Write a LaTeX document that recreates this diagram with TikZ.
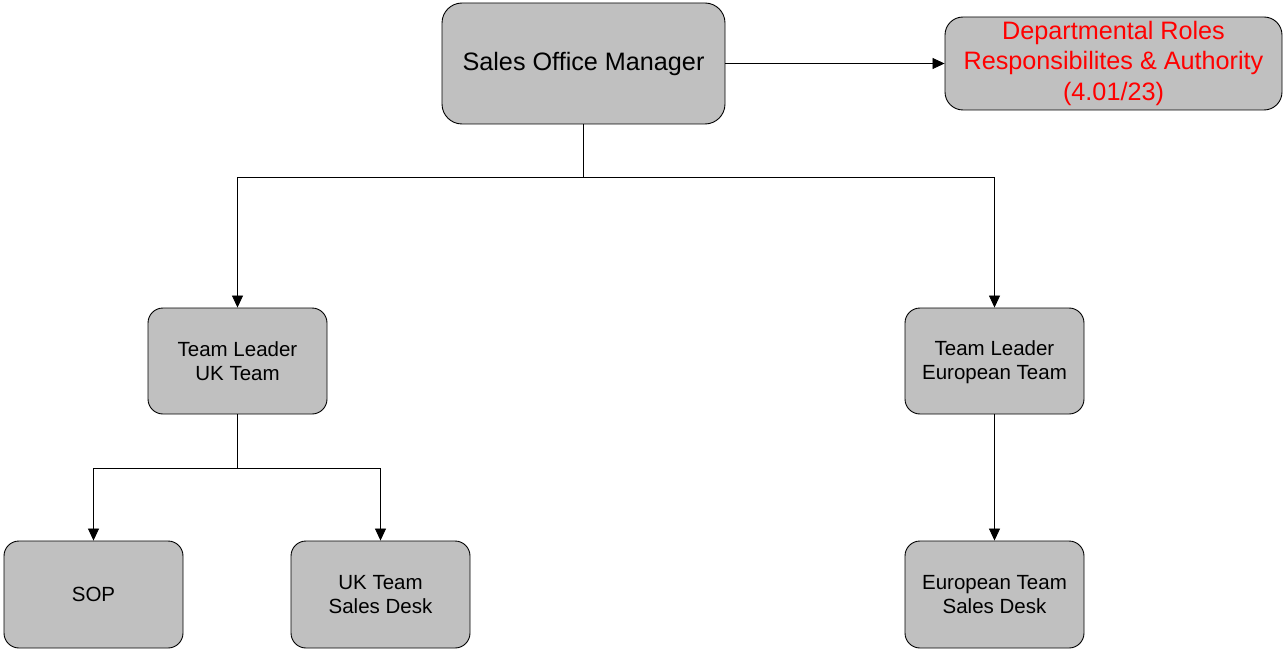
\documentclass[tikz,border=0pt]{standalone}
\usepackage{fontspec}
\setmainfont{Liberation Sans}
\usetikzlibrary{arrows.meta}
\definecolor{boxgray}{HTML}{C0C0C0}
\definecolor{redtext}{HTML}{FF0000}
\tikzset{
  box/.style={draw=black, line width=0.9pt, fill=boxgray, rounded corners=15pt, inner sep=0pt, align=center, font=\fontsize{20.5}{24}\selectfont},
  conn/.style={draw=black, line width=0.8pt},
  arr/.style={conn, -{Triangle[length=12pt,width=11pt]}}
}
\begin{document}
\begin{tikzpicture}[x=1pt,y=-1pt]
\useasboundingbox (0,0) rectangle (1285,650);
\node[box, rounded corners=20pt, minimum width=283pt, minimum height=121pt, font=\fontsize{25.2}{30}\selectfont] (som) at (583.5,63.5) {\raisebox{-2pt}{Sales Office Manager}};
\node[box, rounded corners=18pt, minimum width=337pt, minimum height=93pt, text=redtext, font=\fontsize{25.2}{30.5}\selectfont] (dra) at (1113.5,63.5) {\raisebox{-2pt}{\begin{tabular}{@{}c@{}}Departmental Roles\\Responsibilites \& Authority\\(4.01/23)\end{tabular}}};
\node[box, minimum width=179pt, minimum height=106pt] (tluk) at (237.5,361) {Team Leader\\UK Team};
\node[box, minimum width=179pt, minimum height=106pt] (tleu) at (994.5,361) {Team Leader\strut\\European Team};
\node[box, minimum width=179pt, minimum height=107pt] (sop) at (93.5,594.5) {SOP};
\node[box, minimum width=179pt, minimum height=107pt] (uksd) at (380.5,594.5) {UK Team\\Sales Desk};
\node[box, minimum width=179pt, minimum height=107pt] (eusd) at (994.5,594.5) {European Team\\Sales Desk};
\coordinate (j1) at (583.5,177);
\coordinate (j2) at (237.5,468);
\draw[arr] (som.east) -- (dra.west);
\draw[conn] (som.south) -- (j1);
\draw[arr] (j1) -| (tluk.north);
\draw[arr] (j1) -| (tleu.north);
\draw[conn] (tluk.south) -- (j2);
\draw[arr] (j2) -| (sop.north);
\draw[arr] (j2) -| (uksd.north);
\draw[arr] (tleu.south) -- (eusd.north);
\end{tikzpicture}
\end{document}
